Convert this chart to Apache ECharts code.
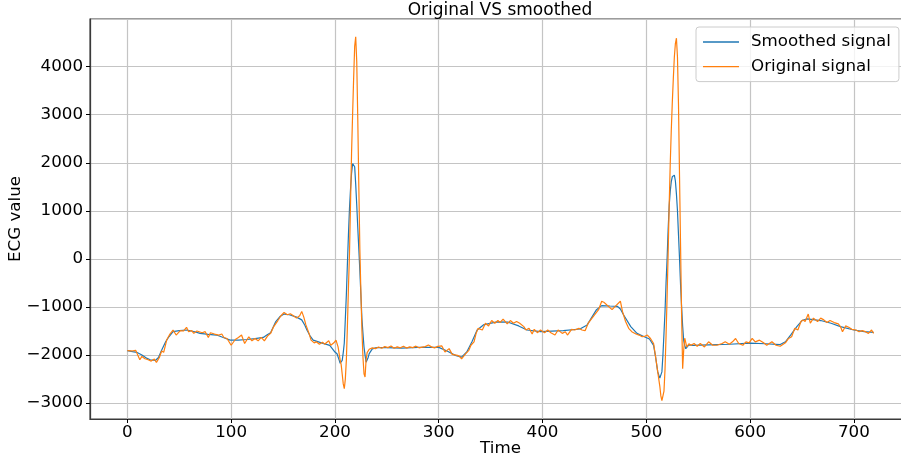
<!DOCTYPE html>
<html><head><meta charset="utf-8">
<script src="https://cdn.jsdelivr.net/npm/echarts@6/dist/echarts.min.js"></script>
<style>html,body{margin:0;padding:0;background:#fff}#c{width:901px;height:459px}</style>
</head><body><div id="c"></div>
<script>
const chartTitle = 'Original VS smoothed';
const seriesNames = ['Smoothed signal', 'Original signal'];
const xAxisName = 'Time';
const yAxisName = 'ECG value';

// [time, value]
const smoothedSignal = [
[0,-1908],[5,-1930],[9,-1943],[14,-2000],[19,-2070],[22,-2098],[27,-2112],[30,-2050],[33,-1900],[37,-1720],
[40,-1620],[44,-1514],[50,-1490],[57,-1479],[64,-1510],[70,-1550],[78,-1570],[86,-1584],[93,-1640],[99,-1690],
[107,-1690],[115,-1676],[123,-1660],[131,-1634],[134,-1590],[138,-1535],[143,-1303],[147,-1200],[151,-1148],[156,-1162],
[163,-1211],[168,-1268],[171,-1380],[173,-1479],[176,-1600],[179,-1690],[187,-1746],[195,-1800],[200,-1937],[202,-1972],
[204,-2100],[205,-2170],[206,-2180],[207,-2110],[208,-1950],[209,-1750],[210,-1250],[211,-740],[212,-100],[213,500],
[214,1050],[215,1450],[216,1780],[217,1980],[218,2021],[219,1917],[220,1550],[221,1120],[222,650],[223,200],
[224,-250],[225,-750],[226,-1250],[227,-1550],[228,-1833],[229,-2000],[230,-2150],[231,-2170],[232,-2050],[233,-1970],
[234,-1930],[236,-1870],[240,-1845],[250,-1845],[264,-1855],[280,-1840],[300,-1840],[308,-1915],[316,-2007],[322,-2042],
[327,-1937],[332,-1725],[337,-1479],[343,-1373],[356,-1310],[367,-1317],[377,-1394],[385,-1479],[398,-1514],[420,-1493],
[436,-1458],[443,-1373],[452,-1056],[457,-972],[465,-980],[472,-986],[475,-1042],[478,-1162],[485,-1408],[491,-1549],
[498,-1620],[503,-1665],[507,-1800],[509,-2050],[511,-2350],[513,-2480],[514,-2493],[515,-2350],[516,-2000],[517,-1550],
[518,-1100],[519,-500],[520,0],[521,600],[522,1100],[523,1400],[524,1600],[525,1708],[526,1740],[527,1743],
[528,1620],[529,1350],[530,1000],[531,500],[532,0],[533,-550],[534,-1000],[535,-1400],[536,-1700],[537,-1800],
[538,-1868],[539,-1840],[541,-1790],[545,-1800],[560,-1790],[580,-1775],[600,-1750],[615,-1765],[629,-1782],[634,-1725],
[639,-1584],[645,-1408],[650,-1282],[655,-1246],[668,-1282],[678,-1338],[687,-1408],[700,-1479],[710,-1514],[719,-1528]
];

const originalSignal = [
[0,-1908],[4,-1915],[8,-1901],[12,-2098],[14,-2028],[17,-2077],[20,-2098],[23,-2126],[26,-2084],[28,-2155],
[31,-2042],[33,-1915],[35,-1943],[38,-1680],[41,-1563],[44,-1479],[47,-1584],[51,-1493],[54,-1500],[57,-1422],
[59,-1514],[62,-1493],[64,-1549],[67,-1500],[72,-1535],[75,-1514],[78,-1634],[80,-1535],[84,-1563],[88,-1584],
[91,-1563],[93,-1634],[96,-1655],[100,-1796],[104,-1676],[107,-1634],[110,-1584],[113,-1760],[117,-1620],[120,-1704],
[123,-1655],[126,-1704],[129,-1634],[132,-1704],[135,-1605],[138,-1549],[141,-1408],[145,-1282],[148,-1183],[151,-1113],
[154,-1162],[157,-1141],[160,-1183],[163,-1232],[166,-1183],[168,-1092],[170,-1211],[172,-1373],[175,-1549],[177,-1690],
[180,-1746],[182,-1725],[185,-1774],[188,-1732],[190,-1774],[194,-1704],[196,-1796],[199,-1746],[201,-1690],[203,-1831],
[205,-2100],[206,-2200],[207,-2400],[208,-2600],[209,-2700],[210,-2500],[211,-2100],[212,-1400],[213,-600],[214,100],
[215,1150],[216,2200],[217,3000],[218,3750],[219,4420],[220,4620],[221,4100],[222,2900],[223,1500],[224,200],
[225,-700],[226,-1500],[227,-2050],[228,-2390],[229,-2458],[230,-2100],[231,-1950],[233,-1880],[236,-1850],[239,-1866],
[242,-1831],[245,-1860],[248,-1825],[251,-1845],[254,-1810],[257,-1860],[260,-1830],[263,-1850],[266,-1815],[269,-1855],
[272,-1830],[275,-1845],[278,-1815],[281,-1850],[284,-1835],[287,-1825],[290,-1790],[293,-1830],[296,-1850],[299,-1820],
[303,-1810],[306,-1937],[310,-1866],[313,-1986],[318,-2007],[320,-2028],[322,-2077],[326,-1972],[329,-1901],[331,-1796],
[334,-1725],[336,-1549],[338,-1444],[342,-1479],[345,-1338],[348,-1394],[351,-1282],[354,-1338],[357,-1282],[359,-1324],
[362,-1253],[366,-1352],[369,-1282],[372,-1338],[375,-1303],[378,-1338],[382,-1408],[384,-1479],[387,-1444],[390,-1563],
[392,-1465],[395,-1535],[398,-1479],[402,-1535],[405,-1479],[408,-1535],[412,-1584],[415,-1479],[419,-1549],[422,-1514],
[424,-1584],[428,-1465],[431,-1479],[435,-1444],[438,-1479],[441,-1493],[444,-1338],[449,-1197],[454,-1056],[457,-880],
[459,-900],[462,-960],[467,-1056],[470,-986],[475,-880],[477,-1092],[480,-1303],[483,-1444],[486,-1514],[490,-1563],
[493,-1584],[496,-1620],[499,-1605],[501,-1584],[504,-1655],[507,-1760],[509,-2050],[511,-2350],[513,-2650],[514,-2850],
[515,-2950],[516,-2940],[517,-2750],[518,-2300],[519,-1600],[520,-800],[521,100],[522,1100],[523,1950],[524,2650],
[525,3240],[526,3750],[527,4200],[528,4480],[529,4590],[530,4200],[531,3200],[532,1700],[533,250],[534,-1200],
[535,-2285],[536,-1900],[537,-1650],[539,-1833],[541,-1764],[543,-1796],[546,-1760],[549,-1817],[552,-1760],[556,-1831],
[560,-1725],[564,-1796],[568,-1796],[573,-1760],[576,-1725],[580,-1774],[583,-1725],[586,-1655],[589,-1760],[593,-1796],
[596,-1725],[599,-1746],[602,-1655],[605,-1725],[609,-1690],[613,-1746],[616,-1796],[621,-1725],[625,-1796],[629,-1817],
[634,-1746],[637,-1655],[640,-1620],[643,-1444],[646,-1479],[649,-1303],[651,-1268],[653,-1303],[656,-1148],[658,-1338],
[661,-1232],[665,-1303],[668,-1232],[671,-1268],[674,-1324],[677,-1282],[681,-1324],[685,-1352],[687,-1408],[689,-1514],
[692,-1394],[695,-1422],[698,-1465],[702,-1479],[705,-1514],[708,-1493],[711,-1514],[714,-1549],[717,-1479],[719,-1549]
];

const FONT = 'DejaVu Sans';
const fmtMinus = v => (v < 0 ? '\u2212' + Math.abs(v) : String(v));

const chart = echarts.init(document.getElementById('c'), null, {renderer: 'canvas'});
chart.setOption({
  animation: false,
  backgroundColor: '#ffffff',
  grid: {left: 90, top: 19, right: -10, bottom: 40, containLabel: false, outerBoundsMode: 'none',
         show: true, borderColor: '#3a3a3a', borderWidth: 1.2, backgroundColor: 'transparent'},
  graphic: [{type: 'text', x: 500, y: 11, style: {text: chartTitle, font: '17px "DejaVu Sans"', fill: '#000', align: 'center', verticalAlign: 'middle'}}],
  legend: {
    orient: 'vertical', left: 696, top: 27, padding: [5, 8, 5, 7], itemGap: 4.6,
    itemWidth: 36, itemHeight: 1.4, icon: 'rect',
    backgroundColor: 'rgba(255,255,255,0.8)', borderColor: '#cccccc', borderWidth: 1, borderRadius: 3,
    textStyle: {fontFamily: FONT, fontSize: 16.7, color: '#000', lineHeight: 20, padding: [0, 0, 0, 7]},
    data: seriesNames
  },
  xAxis: {
    type: 'value', min: -36, max: 755, splitNumber: 8,
    name: xAxisName, nameLocation: 'middle', nameGap: 21, nameMoveOverlap: false,
    nameTextStyle: {fontFamily: FONT, fontSize: 16.7, color: '#000', verticalAlign: 'top'},
    axisLine: {show: true, onZero: false, lineStyle: {color: '#3a3a3a', width: 1.2}},
    axisTick: {show: true, length: 4, lineStyle: {color: '#000', width: 1}},
    axisLabel: {fontFamily: FONT, fontSize: 16.7, color: '#000', margin: 5, showMinLabel: false, showMaxLabel: false, formatter: fmtMinus},
    splitLine: {show: true, lineStyle: {color: '#c4c4c4', width: 1.2}}
  },
  yAxis: {
    type: 'value', min: -3330, max: 4990, splitNumber: 8,
    name: yAxisName, nameLocation: 'middle', nameGap: 66, nameRotate: 90, nameMoveOverlap: false,
    nameTextStyle: {fontFamily: FONT, fontSize: 16.7, color: '#000'},
    axisLine: {show: true, onZero: false, lineStyle: {color: '#3a3a3a', width: 1.2}},
    axisTick: {show: true, length: 4, lineStyle: {color: '#000', width: 1}},
    axisLabel: {fontFamily: FONT, fontSize: 16.7, color: '#000', margin: 7, showMinLabel: false, showMaxLabel: false, formatter: fmtMinus},
    splitLine: {show: true, lineStyle: {color: '#c4c4c4', width: 1.2}}
  },
  series: [
    {name: seriesNames[0], type: 'line', data: smoothedSignal, showSymbol: false, symbol: 'none',
     lineStyle: {color: '#1f77b4', width: 1.2}, itemStyle: {color: '#1f77b4'}, z: 2},
    {name: seriesNames[1], type: 'line', data: originalSignal, showSymbol: false, symbol: 'none',
     lineStyle: {color: '#ff7f0e', width: 1.2}, itemStyle: {color: '#ff7f0e'}, z: 3}
  ]
});
</script>
</body></html>
